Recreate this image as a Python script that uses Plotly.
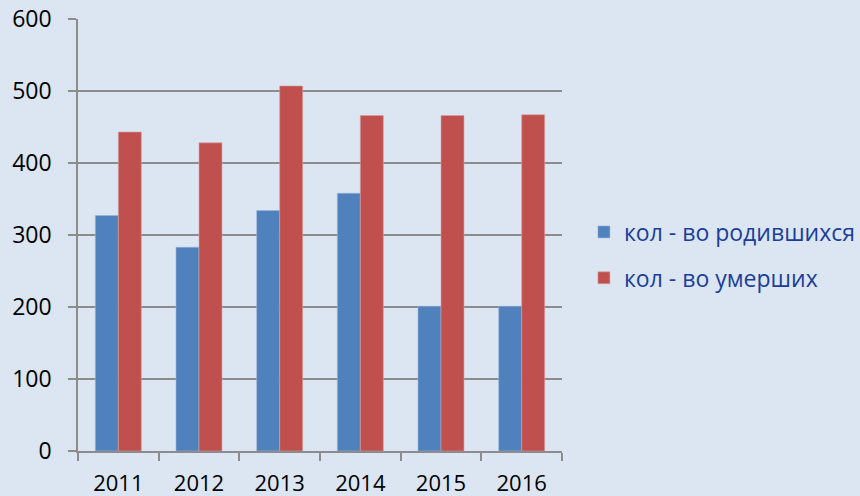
import plotly.graph_objects as go

years = ["2011", "2012", "2013", "2014", "2015", "2016"]
born = [327, 283, 334, 358, 201, 201]
died = [443, 428, 507, 466, 466, 467]
y_ticks = [0, 100, 200, 300, 400, 500, 600]

fig = go.Figure()
fig.add_trace(go.Bar(x=years, y=born, name="кол - во родившихся",
                     marker=dict(color="#4F81BD", line=dict(color="#9DB5D8", width=0.6)),
                     legendgroup="a"))
fig.add_trace(go.Bar(x=years, y=died, name="кол - во умерших",
                     marker=dict(color="#C0504D", line=dict(color="#D9A0A0", width=0.6)),
                     legendgroup="b"))

font = "Open Sans, Liberation Sans, sans-serif"
fig.update_layout(
    width=860, height=496,
    margin=dict(l=78, r=298, t=19, b=45, autoexpand=False),
    paper_bgcolor="#DCE6F2", plot_bgcolor="#DCE6F2",
    barmode="group", bargap=0.43, bargroupgap=0,
    font=dict(family=font, size=23, color="#000000"),
    legend=dict(xref="container", yref="container", x=0.679, y=0.486,
                xanchor="left", yanchor="middle",
                font=dict(size=23, color="#1A3E9A"), tracegroupgap=13,
                bgcolor="rgba(0,0,0,0)", itemwidth=30),
    xaxis=dict(showline=True, linecolor="#8C8C8C", linewidth=1.5, automargin=False,
               ticks="outside", tickson="boundaries", ticklen=8, tickcolor="#8C8C8C",
               tickwidth=1.5, showgrid=False, ticklabelstandoff=12,
               tickfont=dict(size=22)),
    yaxis=dict(range=[0, 600], tickvals=y_ticks, showline=True, linecolor="#8C8C8C",
               linewidth=1.5, ticks="outside", ticklen=8, tickcolor="#8C8C8C", tickwidth=1.5,
               showgrid=True, gridcolor="#8C8C8C", gridwidth=1.5, zeroline=False,
               ticklabelstandoff=12, automargin=False, tickfont=dict(size=23)),
)
fig.write_html("out.html", config={"displayModeBar": False},
               post_script="document.body.style.margin='0';document.body.style.overflow='hidden';")
